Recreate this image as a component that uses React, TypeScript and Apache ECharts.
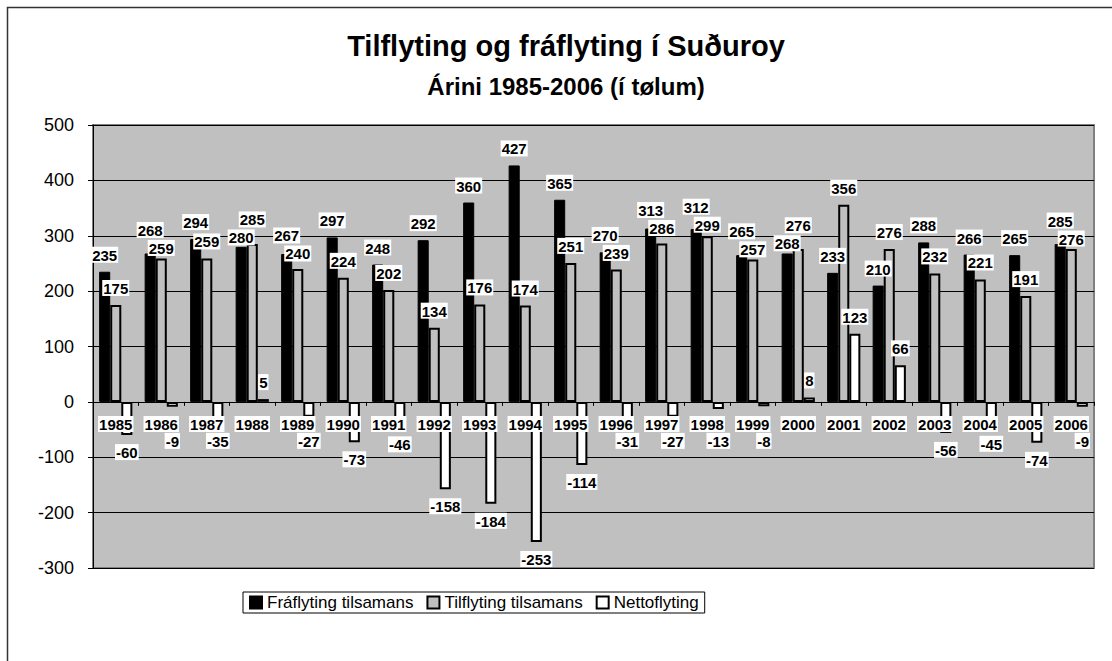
import React, { useEffect, useRef } from "react";
import * as echarts from "echarts";

const years = ["1985","1986","1987","1988","1989","1990","1991","1992","1993","1994","1995","1996","1997","1998","1999","2000","2001","2002","2003","2004","2005","2006"];
const fraflyting = [235,268,294,280,267,297,248,292,360,427,365,270,313,312,265,268,233,210,288,266,265,285];
const tilflyting = [175,259,259,285,240,224,202,134,176,174,251,239,286,299,257,276,356,276,232,221,191,276];
const nettoflyting = [-60,-9,-35,5,-27,-73,-46,-158,-184,-253,-114,-31,-27,-13,-8,8,123,66,-56,-45,-74,-9];
const seriesNames = ["Fráflyting tilsamans", "Tilflyting tilsamans", "Nettoflyting"];
const titleText = "Tilflyting og fráflyting í Suðuroy";
const subtitleText = "Árini 1985-2006 (í tølum)";
const yMin = -300;
const yMax = 500;

const FONT = "'Liberation Sans', Arial, Helvetica, sans-serif";

export default function App() {
  const ref = useRef<HTMLDivElement>(null);
  useEffect(() => {
    if (!ref.current) return;
    const chart = echarts.init(ref.current, null, { renderer: "svg" });
    const gridTop = 125;
    const gridBottom = 93;
    const gridHeight = 661 - gridTop - gridBottom;
    const pxPerUnit = gridHeight / (yMax - yMin);
    const zeroOffset = (gridHeight * (0 - yMin)) / (yMax - yMin);
    const zeroY = gridTop + gridHeight - zeroOffset;
    const minNegLabelTop = zeroY + 31;
    const labelH = 18;
    const spread = (i: number, self: number[], other: number[]) => {
      const d = Math.abs(self[i] - other[i]) * pxPerUnit;
      if (d >= labelH) return 0;
      const half = (labelH - d) / 2;
      return self[i] >= other[i] ? -half : half;
    };
    const dataLabel = {
      show: true,
      position: "top",
      distance: 9,
      fontSize: 15,
      fontWeight: "bold",
      color: "#000",
      backgroundColor: "#fff",
      padding: [1, 1, 0, 1],
      fontFamily: FONT,
    };
    const option: any = {
      animation: false,
      backgroundColor: "#fff",
      textStyle: { fontFamily: FONT },
      graphic: [
        {
          type: "rect",
          shape: { x: 7.5, y: 7.5, width: 1200, height: 800 },
          style: { fill: "none", stroke: "#333", lineWidth: 1.5 },
          silent: true,
        },
        {
          type: "text",
          x: 566,
          y: 46,
          style: {
            text: titleText,
            textAlign: "center",
            textVerticalAlign: "middle",
            font: `bold 29px ${FONT}`,
            fill: "#000",
          },
        },
        {
          type: "text",
          x: 566,
          y: 86,
          style: {
            text: subtitleText,
            textAlign: "center",
            textVerticalAlign: "middle",
            font: `bold 24px ${FONT}`,
            fill: "#000",
          },
        },
      ],
      legend: {
        left: 243,
        top: 592,
        data: seriesNames,
        icon: "rect",
        itemWidth: 12,
        itemHeight: 12,
        itemGap: 13,
        borderColor: "#000",
        borderWidth: 1,
        padding: [2, 6, 2, 6],
        textStyle: { fontSize: 17, color: "#000", fontFamily: FONT, lineHeight: 17 },
      },
      grid: {
        left: 93,
        right: 18,
        top: gridTop,
        bottom: gridBottom,
        show: true,
        backgroundColor: "#C0C0C0",
        borderColor: "#808080",
        borderWidth: 2,
      },
      xAxis: {
        type: "category",
        data: years,
        z: 5,
        position: "bottom",
        offset: -zeroOffset,
        axisLine: { onZero: false, lineStyle: { color: "#000", width: 1 } },
        axisTick: { show: true, length: 4, lineStyle: { color: "#000" } },
        axisLabel: {
          fontSize: 15,
          fontWeight: "bold",
          color: "#000",
          backgroundColor: "#fff",
          padding: [1, 1, 0, 1],
          margin: 14,
          interval: 0,
          fontFamily: FONT,
        },
        splitLine: { show: false },
      },
      yAxis: {
        type: "value",
        min: yMin,
        max: yMax,
        interval: 100,
        axisLine: { show: true, lineStyle: { color: "#000", width: 1 } },
        axisTick: { show: true, length: 5, lineStyle: { color: "#000" } },
        axisLabel: { fontSize: 18, color: "#000", margin: 19, fontFamily: FONT },
        splitLine: { show: true, lineStyle: { color: "#000", width: 1 } },
      },
      series: [
        {
          name: seriesNames[0],
          type: "bar",
          data: fraflyting,
          barGap: "0%",
          barCategoryGap: "27%",
          itemStyle: { color: "#000", borderColor: "#000", borderWidth: 1 },
          label: { ...dataLabel },
          labelLayout: (p: any) => ({ dy: spread(p.dataIndex, fraflyting, tilflyting) }),
        },
        {
          name: seriesNames[1],
          type: "bar",
          data: tilflyting,
          barGap: "0%",
          barCategoryGap: "27%",
          itemStyle: { color: "#C0C0C0", borderColor: "#000", borderWidth: 2 },
          label: { ...dataLabel, offset: [8, 0] },
          labelLayout: (p: any) => ({ dy: spread(p.dataIndex, tilflyting, fraflyting) }),
        },
        {
          name: seriesNames[2],
          type: "bar",
          data: nettoflyting.map((v) => ({
            value: v,
            label: { position: v < 0 ? "bottom" : "top" },
          })),
          barGap: "0%",
          barCategoryGap: "27%",
          itemStyle: { color: "#fff", borderColor: "#000", borderWidth: 2 },
          label: { ...dataLabel },
          labelLayout: (p: any) => {
            if (p.rect && p.rect.y >= zeroY - 2 && p.labelRect.y > zeroY) {
              const shift = minNegLabelTop - p.labelRect.y;
              if (shift > 0) return { dy: shift };
            }
            return {};
          },
        },
      ],
    };
    chart.setOption(option);
    return () => chart.dispose();
  }, []);
  return (
    <div
      ref={ref}
      style={{ position: "fixed", left: 0, top: 0, width: 1112, height: 661 }}
    />
  );
}
